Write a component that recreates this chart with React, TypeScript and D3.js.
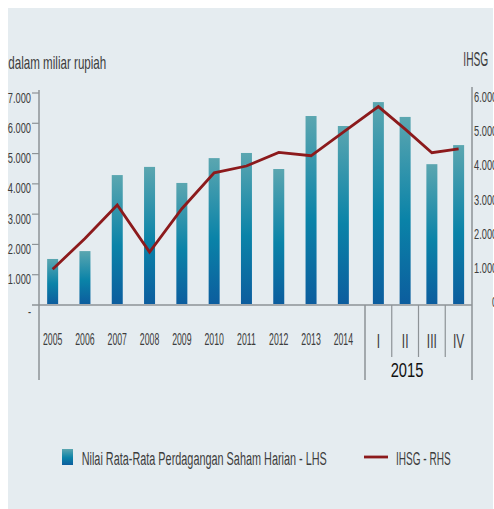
import React from "react";
import * as d3 from "d3";

// ---- data ----
const years = ["2005", "2006", "2007", "2008", "2009", "2010", "2011", "2012", "2013", "2014"];
const quarters = ["I", "II", "III", "IV"];
const yearTrading = [1520, 1780, 4290, 4560, 4030, 4850, 5020, 4490, 6240, 5910];
const quarterTrading = [6700, 6210, 4650, 5280];
const yearIHSG = [960, 1860, 2840, 1460, 2730, 3780, 3980, 4380, 4280, 4970];
const quarterIHSG = [5720, 5060, 4370, 4480];
const leftTicks = [0, 1000, 2000, 3000, 4000, 5000, 6000, 7000];
const leftTickLabels = ["-", "1.000", "2.000", "3.000", "4.000", "5.000", "6.000", "7.000"];
const rightTicks = [0, 1000, 2000, 3000, 4000, 5000, 6000];
const rightTickLabels = ["0", "1.000", "2.000", "3.000", "4.000", "5.000", "6.000"];
const yearGroupLabel = "2015";
const leftTitle = "dalam miliar rupiah";
const rightTitle = "IHSG";
const legendBarLabel = "Nilai Rata-Rata Perdagangan Saham Harian - LHS";
const legendLineLabel = "IHSG - RHS";

const FONT = "'Liberation Sans', Arial, sans-serif";
const TXT = "#3d3d3d";
const AXIS = "#8d9397";
const LINE = "#8c1a1c";

type TProps = {
  x: number;
  y: number;
  sx: number;
  size: number;
  anchor?: "start" | "middle" | "end";
  fill?: string;
  children: React.ReactNode;
};

// condensed text: horizontal scale applied around the anchor point
function T({ x, y, sx, size, anchor = "start", fill = TXT, children }: TProps) {
  return (
    <text transform={`translate(${x},${y}) scale(${sx},1)`} fontSize={size} fill={fill} textAnchor={anchor}>
      {children}
    </text>
  );
}

export default function App() {
  const xYears = d3.scaleBand<string>().domain(years).range([36.5, 359.5]);
  const xQuarters = d3.scaleBand<string>().domain(quarters).range([365, 472]);
  const yL = d3.scaleLinear().domain([0, 7000]).range([305, 93]);
  const yR = d3.scaleLinear().domain([0, 6000]).range([302, 97]);
  const barW = 11;

  const bars = [
    ...years.map((c, i) => ({ cx: xYears(c)! + xYears.bandwidth() / 2, v: yearTrading[i], key: c })),
    ...quarters.map((c, i) => ({ cx: xQuarters(c)! + xQuarters.bandwidth() / 2, v: quarterTrading[i], key: "Q" + c })),
  ];
  const pts: [number, number][] = [
    ...years.map((c, i) => [xYears(c)! + xYears.bandwidth() / 2, yR(yearIHSG[i])] as [number, number]),
    ...quarters.map((c, i) => [xQuarters(c)! + xQuarters.bandwidth() / 2, yR(quarterIHSG[i])] as [number, number]),
  ];
  const lineGen = d3.line<[number, number]>().x((d) => d[0]).y((d) => d[1]);

  const quarterSeps = quarters.slice(1).map((q) => xQuarters(q)!);

  return (
    <svg width={494} height={509} style={{ position: "absolute", left: 0, top: 0 }} fontFamily={FONT}>
      <defs>
        <linearGradient id="barGrad" x1="0" y1="0" x2="0" y2="1">
          <stop offset="0%" stopColor="#5ba6b0" />
          <stop offset="55%" stopColor="#0a83a8" />
          <stop offset="100%" stopColor="#0c5d9e" />
        </linearGradient>
      </defs>
      <rect x={8} y={8} width={485} height={501} fill="#e5ecf0" />

      {/* titles */}
      <T x={8.3} y={68.5} sx={0.627} size={18.5}>{leftTitle}</T>
      <T x={463.3} y={66} sx={0.524} size={19.5}>{rightTitle}</T>

      {/* bars */}
      {bars.map((b) => (
        <rect key={b.key} x={b.cx - barW / 2} y={yL(b.v)} width={barW} height={yL(0) - yL(b.v) - 1} fill="url(#barGrad)" />
      ))}

      {/* axes */}
      <line x1={39} x2={39} y1={90} y2={380} stroke={AXIS} strokeWidth={1.5} />
      <line x1={472} x2={472} y1={87} y2={380} stroke={AXIS} strokeWidth={1.5} />
      <line x1={32} x2={472} y1={yL(0)} y2={yL(0)} stroke={AXIS} strokeWidth={1.5} />
      <line x1={365} x2={365} y1={yL(0)} y2={380} stroke={AXIS} strokeWidth={1.5} />
      {quarterSeps.map((x, i) => (
        <line key={i} x1={x} x2={x} y1={yL(0)} y2={357} stroke={AXIS} strokeWidth={1.2} />
      ))}

      {leftTicks.map((t, i) => (
        <g key={t}>
          {t > 0 && <line x1={32} x2={39} y1={yL(t)} y2={yL(t)} stroke={AXIS} strokeWidth={1.2} />}
          <T x={31} y={t > 0 ? yL(t) + 9.5 : yL(t) + 12} sx={0.6} size={15.5} anchor="end">
            {leftTickLabels[i]}
          </T>
        </g>
      ))}
      {rightTicks.map((t, i) => (
        <T key={t} x={t > 0 ? 474 : 492} y={yR(t) + 5} sx={0.64} size={14.5}>
          {rightTickLabels[i]}
        </T>
      ))}

      {/* category labels */}
      {years.map((c) => (
        <T key={c} x={xYears(c)! + xYears.bandwidth() / 2} y={344.5} sx={0.53} size={16.5} anchor="middle">
          {c}
        </T>
      ))}
      {quarters.map((c) => (
        <T key={c} x={xQuarters(c)! + xQuarters.bandwidth() / 2} y={347.5} sx={0.6} size={20} anchor="middle">
          {c}
        </T>
      ))}
      <T x={407} y={376.5} sx={0.7} size={21} anchor="middle" fill="#111">
        {yearGroupLabel}
      </T>

      {/* line */}
      <path d={lineGen(pts) || ""} fill="none" stroke={LINE} strokeWidth={2.8} strokeLinejoin="miter" />

      {/* legend */}
      <rect x={62} y={449} width={11} height={16} fill="url(#barGrad)" />
      <T x={81.7} y={464.5} sx={0.572} size={19}>{legendBarLabel}</T>
      <line x1={364} x2={388} y1={457} y2={457} stroke={LINE} strokeWidth={2.8} />
      <T x={396} y={464.5} sx={0.528} size={19}>{legendLineLabel}</T>
    </svg>
  );
}
